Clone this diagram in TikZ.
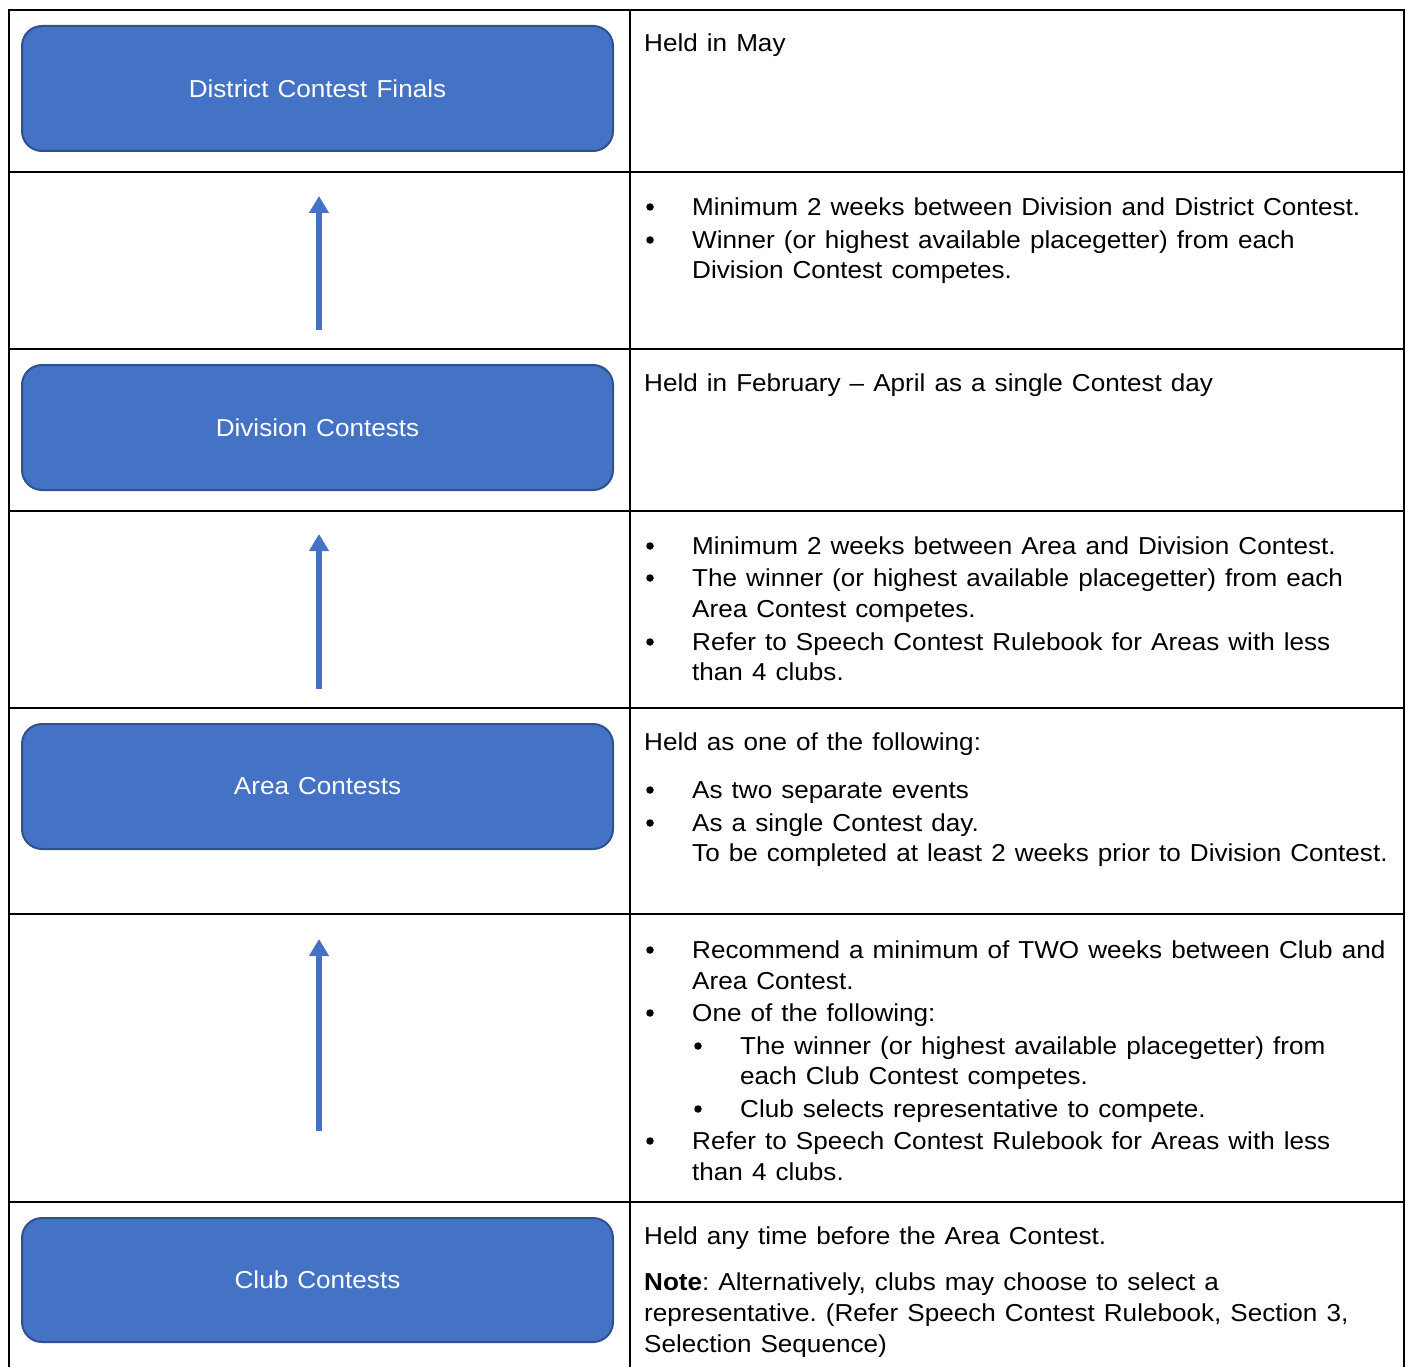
\documentclass[tikz,border=0pt]{standalone}
\usepackage{fontspec}
\setmainfont{Liberation Sans}[FakeStretch=1.065,WordSpace=1.25]
\usetikzlibrary{arrows.meta}
\definecolor{boxfill}{HTML}{4472C4}
\definecolor{boxline}{HTML}{2F528F}
\frenchspacing
\begin{document}
\begin{tikzpicture}[x=1pt,y=-1pt,
  grid/.style={line width=2pt,black},
  stage/.style={draw=boxline,line width=2pt,fill=boxfill,rounded corners=20pt},
  stagetext/.style={text=white,font=\frenchspacing\fontsize{24.5}{29}\selectfont,inner sep=0pt},
  body/.style={anchor=base west,inner sep=0pt,font=\frenchspacing\fontsize{24.5}{29}\selectfont},
  bul/.style={circle,fill=black,inner sep=0pt,minimum size=7.5pt},
  uparrow/.style={draw=boxfill,line width=6pt,-{Triangle[width=19pt,length=17pt]}}]
\useasboundingbox (0,0) rectangle (1408,1367);
% table grid
\draw[grid] (9,10) -- (1404,10);
\foreach \yy in {172,349,511,708,914,1202} \draw[grid] (9,\yy) -- (1404,\yy);
\draw[grid] (9,9) -- (9,1367);
\draw[grid] (630,10) -- (630,1367);
\draw[grid] (1404,9) -- (1404,1367);
% stage boxes
\draw[stage] (22,26) rectangle (613,151);
\node[stagetext] (district) at (317.5,88.5) {District Contest Finals};
\draw[stage] (22,365) rectangle (613,490);
\node[stagetext] (division) at (317.5,427.5) {Division Contests};
\draw[stage] (22,724) rectangle (613,849);
\node[stagetext] (area) at (317.5,786.5) {Area Contests};
\draw[stage] (22,1218) rectangle (613,1342);
\node[stagetext] (club) at (317.5,1280) {Club Contests};
% arrows
\coordinate (a1s) at (319,330); \coordinate (a1e) at (319,196);
\coordinate (a2s) at (319,689); \coordinate (a2e) at (319,534);
\coordinate (a3s) at (319,1131); \coordinate (a3e) at (319,939);
\draw[uparrow] (a1s) -- (a1e);
\draw[uparrow] (a2s) -- (a2e);
\draw[uparrow] (a3s) -- (a3e);
% row 1
\node[body] (r1a) at (644,52) {Held in May};
% row 2
\node[bul] (r2b1) at (650,207) {};
\node[body] (r2a) at (692,215) {Minimum 2 weeks between Division and District Contest.};
\node[bul] (r2b2) at (650,240) {};
\node[body] (r2b) at (692,248) {Winner (or highest available placegetter) from each};
\node[body] (r2c) at (692,278) {Division Contest competes.};
% row 3
\node[body] (r3a) at (644,391) {Held in February – April as a single Contest day};
% row 4
\node[bul] (r4b1) at (650,546) {};
\node[body] (r4a) at (692,554) {Minimum 2 weeks between Area and Division Contest.};
\node[bul] (r4b2) at (650,578) {};
\node[body] (r4b) at (692,586) {The winner (or highest available placegetter) from each};
\node[body] (r4c) at (692,617) {Area Contest competes.};
\node[bul] (r4b3) at (650,642) {};
\node[body] (r4d) at (692,650) {Refer to Speech Contest Rulebook for Areas with less};
\node[body] (r4e) at (692,680) {than 4 clubs.};
% row 5
\node[body] (r5a) at (644,750) {Held as one of the following:};
\node[bul] (r5b1) at (650,790) {};
\node[body] (r5b) at (692,798) {As two separate events};
\node[bul] (r5b2) at (650,823) {};
\node[body] (r5c) at (692,831) {As a single Contest day.};
\node[body] (r5d) at (692,861) {To be completed at least 2 weeks prior to Division Contest.};
% row 6
\node[bul] (r6b1) at (650,950) {};
\node[body] (r6a) at (692,958) {Recommend a minimum of TWO weeks between Club and};
\node[body] (r6b) at (692,989) {Area Contest.};
\node[bul] (r6b2) at (650,1013) {};
\node[body] (r6c) at (692,1021) {One of the following:};
\node[bul] (r6b3) at (698,1046) {};
\node[body] (r6d) at (740,1054) {The winner (or highest available placegetter) from};
\node[body] (r6e) at (740,1084) {each Club Contest competes.};
\node[bul] (r6b4) at (698,1109) {};
\node[body] (r6f) at (740,1117) {Club selects representative to compete.};
\node[bul] (r6b5) at (650,1141) {};
\node[body] (r6g) at (692,1149) {Refer to Speech Contest Rulebook for Areas with less};
\node[body] (r6h) at (692,1180) {than 4 clubs.};
% row 7
\node[body] (r7a) at (644,1244) {Held any time before the Area Contest.};
\node[body] (r7b) at (644,1290) {\textbf{Note}: Alternatively, clubs may choose to select a};
\node[body] (r7c) at (644,1321) {representative. (Refer Speech Contest Rulebook, Section 3,};
\node[body] (r7d) at (644,1352) {Selection Sequence)};
\end{tikzpicture}
\end{document}
